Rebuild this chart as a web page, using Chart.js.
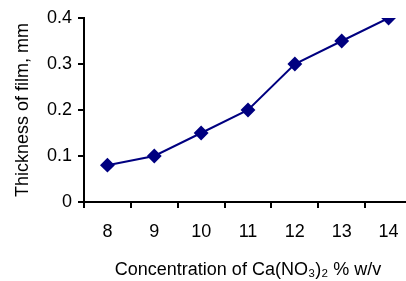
<!DOCTYPE html>
<html>
<head>
<meta charset="utf-8">
<script src="https://cdn.jsdelivr.net/npm/chart.js@4"></script>
<style>
  html, body { margin: 0; padding: 0; background: #fff; overflow: hidden; }
  #wrap { width: 420px; height: 281px; }
</style>
</head>
<body>
<div id="wrap"><canvas id="grafico"></canvas></div>
<script>
// dados
const concentracoes = ['8', '9', '10', '11', '12', '13', '14'];
const espessura = [0.08, 0.1, 0.15, 0.2, 0.3, 0.35, 0.4];
const ticksY = [0, 0.1, 0.2, 0.3, 0.4];

const fonte = "'Liberation Sans Narrow', 'Arial Narrow', 'Liberation Sans', Arial, sans-serif";

const ctx = document.getElementById('grafico').getContext('2d');
new Chart(ctx, {
    type: 'line',
    data: {
        labels: concentracoes,
        datasets: [{
            data: espessura,
            borderColor: '#000080',
            backgroundColor: '#000080',
            borderWidth: 2,
            pointStyle: 'rectRot',
            pointRadius: 6,
            tension: 0
        }]
    },
    options: {
        responsive: true,
        maintainAspectRatio: false,
        animation: false,
        layout: { padding: { top: 18, right: 0, left: 12, bottom: 0 } },
        plugins: { legend: { display: false }, tooltip: { enabled: false } },
        scales: {
            x: {
                offset: true,
                grid: { offset: true, drawOnChartArea: false, color: '#000', lineWidth: 2, tickLength: 6 },
                border: { color: '#000', width: 2 },
                ticks: { color: '#000', font: { family: fonte, size: 18 }, padding: 13, maxRotation: 0 },
                title: {
                    display: true,
                    text: 'Concentration of Ca(NO\u2083)\u2082 % w/v',
                    color: '#000',
                    font: { family: fonte, size: 18 },
                    padding: { top: 4, bottom: 0 }
                },
                afterFit: (scale) => { scale.height = 79; }
            },
            y: {
                min: 0,
                max: 0.4,
                afterBuildTicks: (scale) => { scale.ticks = ticksY.map(v => ({ value: v })); },
                grid: { drawOnChartArea: false, color: '#000', lineWidth: 2, tickLength: 6 },
                border: { color: '#000', width: 2 },
                ticks: {
                    color: '#000',
                    font: { family: fonte, size: 18 },
                    padding: 6,
                    callback: (v) => v === 0 ? '0' : v.toFixed(1)
                },
                title: {
                    display: true,
                    text: 'Thickness of film, mm',
                    color: '#000',
                    font: { family: fonte, size: 18 },
                    padding: { top: 0, bottom: 2 }
                },
                afterFit: (scale) => { scale.width = 72; }
            }
        }
    }
});
</script>
</body>
</html>
